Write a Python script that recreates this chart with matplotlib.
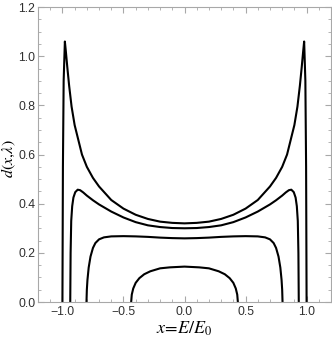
import numpy as np
import matplotlib
matplotlib.use("Agg")
import matplotlib.pyplot as plt
from matplotlib.ticker import MultipleLocator

plt.rcParams['mathtext.fontset'] = 'stix'
plt.rcParams['font.family'] = ['Liberation Sans', 'DejaVu Sans']

# left half of each curve (x <= 0); curves are symmetric
x1 = [-1.0, -0.996, -0.99, -0.98, -0.972, -0.96, -0.945, -0.925, -0.90, -0.87,
      -0.84, -0.80, -0.75, -0.70, -0.60, -0.50, -0.40, -0.30, -0.20, -0.10, 0.0]
y1 = [0.0, 0.55, 0.90, 1.06, 1.02, 0.955, 0.88, 0.795, 0.72, 0.66,
      0.60, 0.55, 0.505, 0.47, 0.415, 0.38, 0.355, 0.338, 0.327, 0.322, 0.320]

x2 = [-0.936, -0.933, -0.928, -0.92, -0.91, -0.895, -0.875, -0.855, -0.83, -0.80,
      -0.75, -0.70, -0.60, -0.50, -0.40, -0.30, -0.20, -0.10, 0.0]
y2 = [0.0, 0.20, 0.33, 0.39, 0.425, 0.447, 0.457, 0.455, 0.446, 0.433,
      0.414, 0.397, 0.368, 0.344, 0.325, 0.312, 0.305, 0.301, 0.300]

x3 = [-0.803, -0.80, -0.795, -0.785, -0.77, -0.75, -0.73, -0.70, -0.66, -0.60,
      -0.50, -0.40, -0.30, -0.20, -0.10, 0.0]
y3 = [0.0, 0.05, 0.09, 0.14, 0.185, 0.22, 0.24, 0.255, 0.263, 0.267,
      0.268, 0.267, 0.265, 0.262, 0.260, 0.259]

x4 = [-0.437, -0.432, -0.42, -0.40, -0.37, -0.33, -0.28, -0.20, -0.12, 0.0]
y4 = [0.0, 0.03, 0.055, 0.078, 0.097, 0.113, 0.125, 0.137, 0.141, 0.144]

xticks = [-1.0, -0.5, 0.0, 0.5, 1.0]
xtick_labels = ['\u22121.0', '\u22120.5', '0.0', '0.5', '1.0']
yticks = [0.0, 0.2, 0.4, 0.6, 0.8, 1.0, 1.2]
ytick_labels = ['0.0', '0.2', '0.4', '0.6', '0.8', '1.0', '1.2']

fig = plt.figure(figsize=(3.32, 3.38), dpi=100)
ax = fig.add_axes([0.1145, 0.1065, 0.8825, 0.8725])

for xs, ys in [(x1, y1), (x2, y2), (x3, y3), (x4, y4)]:
    xs = np.array(xs)
    ys = np.array(ys)
    # mirror the left half to get the whole curve
    xf = np.concatenate([xs, -xs[::-1][1:]])
    yf = np.concatenate([ys, ys[::-1][1:]])
    ax.plot(xf, yf, color='black', linewidth=1.5, solid_joinstyle='round')

ax.set_xlim(-1.2, 1.2)
ax.set_ylim(0, 1.2)
ax.set_xticks(xticks)
ax.set_xticklabels(xtick_labels)
ax.set_yticks(yticks)
ax.set_yticklabels(ytick_labels)
ax.xaxis.set_minor_locator(MultipleLocator(0.1))
ax.yaxis.set_minor_locator(MultipleLocator(0.05))

frame_col = '#a8a8a8'
for s in ax.spines.values():
    s.set_color(frame_col)
    s.set_linewidth(0.8)
ax.tick_params(which='both', direction='in', top=True, right=True,
               color=frame_col, labelsize=8.8, labelcolor='#303030')
ax.tick_params(which='major', length=4, width=0.8, pad=3)
ax.tick_params(axis='y', which='major', pad=2)
ax.tick_params(which='minor', length=2, width=0.6)

ax.set_xlabel(r'$x\!=\!E/E_0$', fontsize=13)
ax.set_ylabel(r'$d(x,\!\lambda)$', fontsize=11.5)
ax.xaxis.set_label_coords(0.5, -0.06)
ax.yaxis.set_label_coords(-0.069, 0.485)

fig.savefig('out.png', dpi=100)
